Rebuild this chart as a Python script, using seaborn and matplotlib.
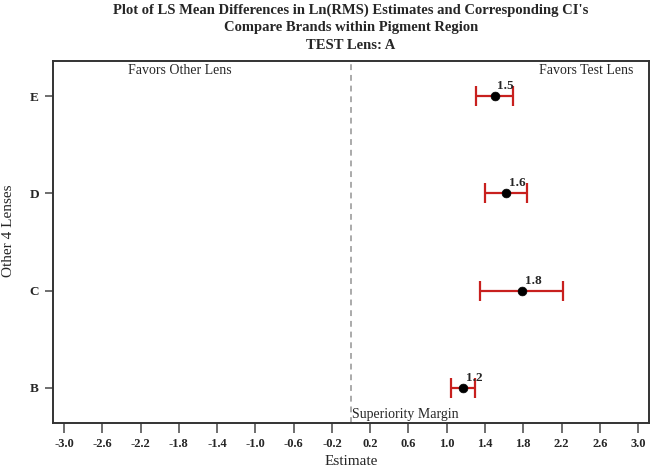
import numpy as np
import pandas as pd
import matplotlib
matplotlib.use("Agg")
import matplotlib.pyplot as plt
import seaborn as sns

# data
lenses = ["B", "C", "D", "E"]
estimates = [1.17, 1.79, 1.62, 1.50]
lower_ci = [1.05, 1.35, 1.40, 1.31]
upper_ci = [1.30, 2.22, 1.84, 1.69]
labels = ["1.2", "1.8", "1.6", "1.5"]
x_ticks = [-3.0, -2.6, -2.2, -1.8, -1.4, -1.0, -0.6, -0.2, 0.2, 0.6, 1.0, 1.4, 1.8, 2.2, 2.6, 3.0]
margin = 0.0
title_lines = ["Plot of LS Mean Differences in Ln(RMS) Estimates and Corresponding CI's",
               "Compare Brands within Pigment Region",
               "TEST Lens: A"]

sns.set_style("white")
plt.rcParams['font.family'] = ['Liberation Serif', 'DejaVu Serif']

df = pd.DataFrame({
    'lens': lenses,
    'estimate': estimates,
    'lower': lower_ci,
    'upper': upper_ci,
    'label': labels,
})
df['pos'] = np.arange(len(df))

fig = plt.figure(figsize=(6.51, 4.76), dpi=100)
ax = fig.add_axes([0.0814, 0.1113, 0.9156, 0.7605])

# confidence intervals
ax.errorbar(df['estimate'], df['pos'],
            xerr=[df['estimate'] - df['lower'], df['upper'] - df['estimate']],
            fmt='none', ecolor='#c8201e', elinewidth=1.6, capsize=7.5, capthick=1.6,
            zorder=2)

# point estimates
sns.scatterplot(data=df, x='estimate', y='pos', color='black', s=40,
                edgecolor='black', linewidth=0.5, zorder=3, ax=ax)

for _, r in df.iterrows():
    ax.text(r['estimate'] + 0.03, r['pos'] + 0.04, r['label'],
            fontsize=9.5, fontweight='bold', ha='left', va='bottom')

# superiority margin
ax.axvline(margin, color='#aaaaaa', linestyle=(0, (3, 2.5)), linewidth=1.4, zorder=1)
ax.text(margin + 0.01, -0.27, "Superiority Margin", fontsize=10, ha='left', va='center')
ax.text(-1.79, 3.26, "Favors Other Lens", fontsize=10, ha='center', va='center')
ax.text(2.46, 3.26, "Favors Test Lens", fontsize=10, ha='center', va='center')

ax.set_xlim(-3.115, 3.115)
ax.set_ylim(-0.36, 3.36)
ax.set_xticks(x_ticks)
ax.set_xticklabels([f"{t:.1f}" for t in x_ticks], fontsize=9, fontweight='bold')
ax.set_yticks(df['pos'])
ax.set_yticklabels(df['lens'], fontsize=9.5, fontweight='bold')

ax.tick_params(axis='x', direction='out', length=7, width=1.2, color='#555555',
               bottom=True, pad=4)
ax.tick_params(axis='y', direction='out', length=6, width=1.2, color='#555555',
               left=True, pad=4)

for sp in ax.spines.values():
    sp.set_visible(True)
    sp.set_color('#333333')
    sp.set_linewidth(1.4)

ax.set_xlabel("Estimate", fontsize=11)
ax.set_ylabel("Other 4 Lenses", fontsize=11)
ax.xaxis.set_label_coords(0.5, -0.088)
ax.yaxis.set_label_coords(-0.064, 0.53)

for i, line in enumerate(title_lines):
    fig.text(0.539, 0.979 - i * 0.037, line, fontsize=10.5, fontweight='bold',
             ha='center', va='center')

fig.savefig("out.png", dpi=100)
